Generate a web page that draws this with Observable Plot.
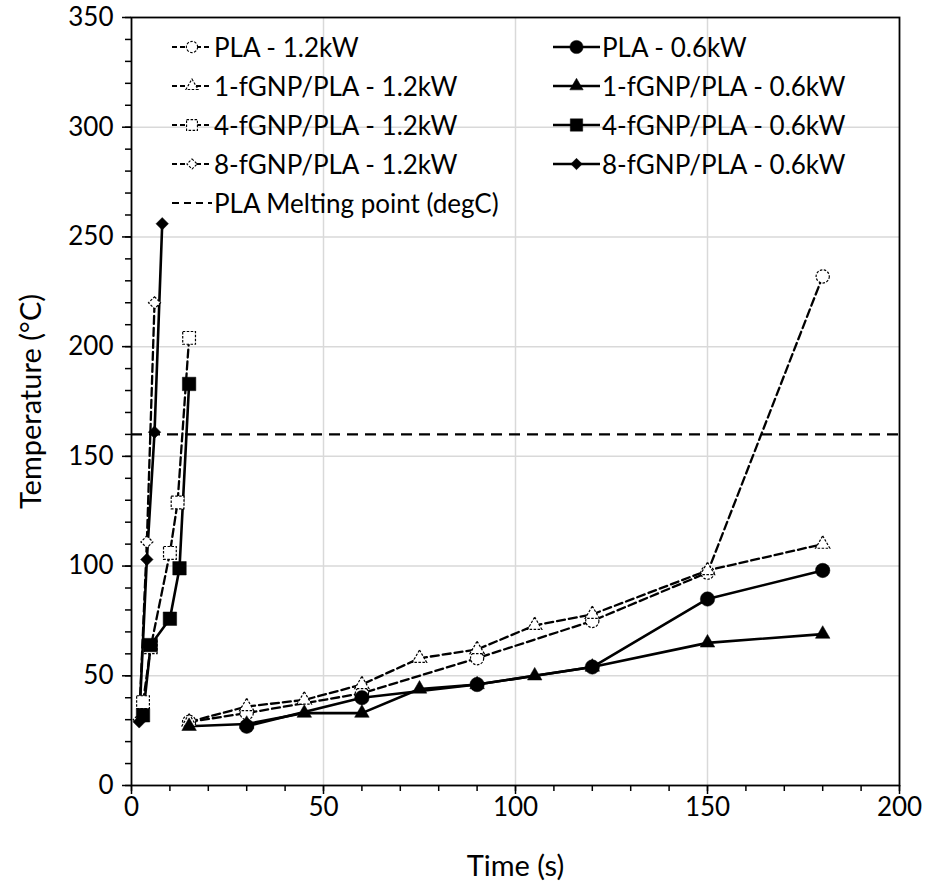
<!DOCTYPE html>
<html><head><meta charset="utf-8">
<script src="https://cdn.jsdelivr.net/npm/d3@7"></script>
<script src="https://cdn.jsdelivr.net/npm/@observablehq/plot@0.6"></script>
<style>
body{margin:0;background:#fff;font-family:Lato,sans-serif;}
#wrap{position:relative;width:928px;height:892px;}
.lg{position:absolute;display:flex;align-items:center;height:40px;font-size:26px;white-space:nowrap;color:#000;}
.lg svg{display:block;margin-right:2px;}
</style></head><body><div id="wrap"></div>
<script>
// ---- data ----
const seriesNames = ["PLA - 1.2kW","1-fGNP/PLA - 1.2kW","4-fGNP/PLA - 1.2kW","8-fGNP/PLA - 1.2kW",
                     "PLA - 0.6kW","1-fGNP/PLA - 0.6kW","4-fGNP/PLA - 0.6kW","8-fGNP/PLA - 0.6kW"];
const pla12_t = [15, 30, 60, 90, 120, 150, 180];
const pla12_T = [29, 33, 42, 58, 75, 97, 232];
const f1_12_t = [15, 30, 45, 60, 75, 90, 105, 120, 150, 180];
const f1_12_T = [29, 36, 39, 46, 58, 62, 73, 78, 98, 110];
const f4_12_t = [3, 5, 10, 12, 15];
const f4_12_T = [38, 63, 106, 129, 204];
const f8_12_t = [2, 4, 6];
const f8_12_T = [30, 111, 220];
const pla06_t = [30, 60, 90, 120, 150, 180];
const pla06_T = [27, 40, 46, 54, 85, 98];
const f1_06_t = [15, 30, 45, 60, 75, 90, 105, 120, 150, 180];
const f1_06_T = [27, 28, 33, 33, 44, 46, 50, 54, 65, 69];
const f4_06_t = [3, 5, 10, 12.5, 15];
const f4_06_T = [32, 64, 76, 99, 183];
const f8_06_t = [2, 4, 6, 8];
const f8_06_T = [29, 103, 161, 256];
const meltingPoint = [160];
const meltingLabel = "PLA Melting point (degC)";
const xMajor = [0, 50, 100, 150, 200];
const yMajor = [0, 50, 100, 150, 200, 250, 300, 350];
const xTitle = "Time (s)";
const yTitle = "Temperature (°C)";

const symbols = ["circle","triangle","square","diamond2","circle","triangle","square","diamond2"];
const radiiFilled = {circle: 7.2, triangle: 5.4, square: 7.6, diamond2: 5.6};
const radiiOpen   = {circle: 6.6, triangle: 5.3, square: 7.2, diamond2: 5.4};
const times = [pla12_t, f1_12_t, f4_12_t, f8_12_t, pla06_t, f1_06_t, f4_06_t, f8_06_t];
const temps = [pla12_T, f1_12_T, f4_12_T, f8_12_T, pla06_T, f1_06_T, f4_06_T, f8_06_T];

const series = seriesNames.map((name, i) => ({
  name, symbol: symbols[i], open: i < 4,
  rows: times[i].map((t, j) => ({series: name, t, T: temps[i][j]}))
}));
const openRows = series.filter(s => s.open).flatMap(s => s.rows);
const solidRows = series.filter(s => !s.open).flatMap(s => s.rows);

const xMinor = d3.range(0, 201, 10);
const yMinor = d3.range(0, 351, 10);

const dotMarks = [];
for (const s of series.filter(s => s.open)) {
  dotMarks.push(Plot.dot(s.rows, {x: "t", y: "T", symbol: s.symbol, r: radiiOpen[s.symbol],
    fill: "white", stroke: "black", strokeWidth: 1.2, strokeDasharray: "2.5,1.5"}));
}
for (const s of series.filter(s => !s.open)) {
  dotMarks.push(Plot.dot(s.rows, {x: "t", y: "T", symbol: s.symbol, r: radiiFilled[s.symbol],
    fill: "black", stroke: "black", strokeWidth: 0.5}));
}

const chart = Plot.plot({
  width: 928, height: 892,
  marginLeft: 131, marginRight: 29, marginTop: 17, marginBottom: 107,
  x: {domain: [0, 200]},
  y: {domain: [0, 350]},
  style: {fontFamily: "Lato, sans-serif", fontSize: "26px", color: "black", background: "white"},
  marks: [
    Plot.gridX(xMajor.slice(1, -1), {stroke: "#d9d9d9", strokeOpacity: 1, strokeWidth: 1.5}),
    Plot.gridY(yMajor.slice(1, -1), {stroke: "#d9d9d9", strokeOpacity: 1, strokeWidth: 1.5}),
    Plot.axisX(xMinor, {tickSize: 6, tickFormat: () => "", strokeWidth: 1.5, label: null}),
    Plot.axisY(yMinor, {tickSize: 6, tickFormat: () => "", strokeWidth: 1.5, label: null}),
    Plot.axisX(xMajor, {tickSize: 9, tickPadding: 3, strokeWidth: 1.5, label: null, fontSize: 26}),
    Plot.axisY(yMajor, {tickSize: 9, tickPadding: 9, strokeWidth: 1.5, label: null, fontSize: 26}),
    Plot.text([xTitle], {frameAnchor: "bottom", dy: 90, fontSize: 29}),
    Plot.text([yTitle], {frameAnchor: "left", dx: -100, rotate: -90, textAnchor: "middle", fontSize: 29}),
    Plot.line(openRows, {x: "t", y: "T", z: "series", stroke: "black", strokeWidth: 2.3, strokeDasharray: "8,4"}),
    Plot.line(solidRows, {x: "t", y: "T", z: "series", stroke: "black", strokeWidth: 2.6}),
    Plot.ruleY(meltingPoint, {stroke: "black", strokeWidth: 2.2, strokeDasharray: "11,7"}),
    ...dotMarks,
    Plot.frame({stroke: "black", strokeWidth: 1.8})
  ]
});
const wrap = document.getElementById("wrap");
wrap.appendChild(chart);

// ---- legend (overlay inside the plot area) ----
const legendItems = series.map((s, i) => ({label: s.name, symbol: s.symbol, open: s.open,
  col: s.open ? 0 : 1, row: s.open ? i : i - 4, dashed: s.open}));
legendItems.push({label: meltingLabel, symbol: null, open: true, col: 0, row: 4, dashed: true});
const colX = [172, 553];
const rowY = [27, 66, 105, 144, 183];
for (const it of legendItems) {
  const div = document.createElement("div");
  div.className = "lg";
  div.style.left = colX[it.col] + "px";
  div.style.top = rowY[it.row] + "px";
  const w = it.col === 0 ? 40 : 47;
  const svg = d3.create("svg").attr("width", w).attr("height", 40);
  svg.append("line").attr("x1", 0).attr("x2", w).attr("y1", 20).attr("y2", 20)
    .attr("stroke", "black").attr("stroke-width", it.dashed ? 2.2 : 2.6)
    .attr("stroke-dasharray", it.dashed ? (it.symbol ? "5,3" : "7,5") : null);
  if (it.symbol) {
    const r = it.open ? radiiOpen[it.symbol] * 0.85 : radiiFilled[it.symbol] * 0.92;
    const sym = {circle: d3.symbolCircle, triangle: d3.symbolTriangle, square: d3.symbolSquare, diamond2: d3.symbolDiamond2}[it.symbol];
    svg.append("path").attr("transform", `translate(${w / 2},20)`)
      .attr("d", d3.symbol(sym, Math.PI * r * r)())
      .attr("fill", it.open ? "white" : "black").attr("stroke", "black")
      .attr("stroke-width", it.open ? 1.1 : 0.5)
      .attr("stroke-dasharray", it.open ? "2.5,1.5" : null);
  }
  div.appendChild(svg.node());
  const span = document.createElement("span");
  span.textContent = it.label;
  div.appendChild(span);
  wrap.appendChild(div);
}
</script></body></html>
